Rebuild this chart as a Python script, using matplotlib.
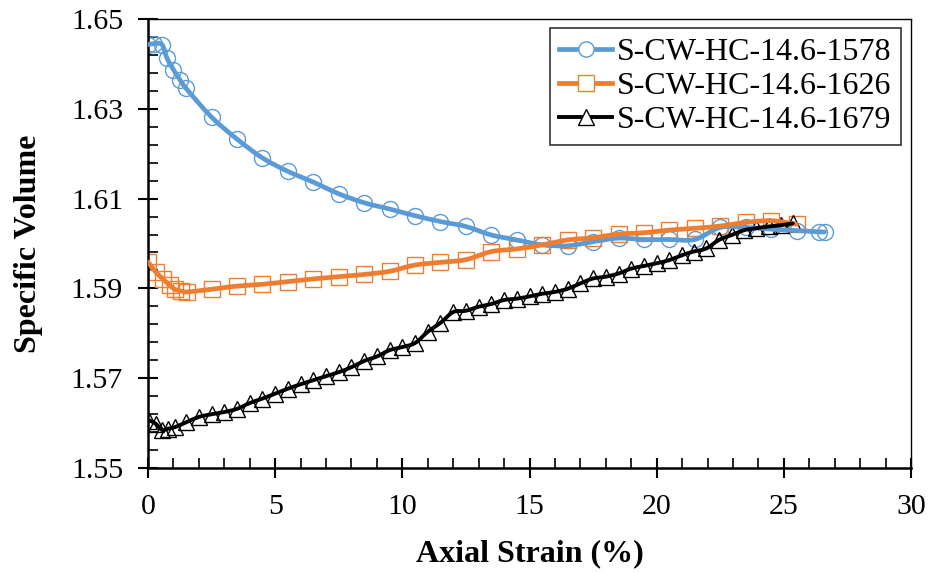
import numpy as np
import matplotlib
matplotlib.use("Agg")
import matplotlib.pyplot as plt
from matplotlib.path import Path
from matplotlib.patches import PathPatch
from matplotlib.lines import Line2D
from matplotlib.ticker import MultipleLocator, FixedLocator, FormatStrFormatter

plt.rcParams['font.family'] = ['Liberation Serif', 'DejaVu Serif']

# S-CW-HC-14.6-1578
strain_1578 = [0.0, 0.25, 0.55, 0.75, 1.0, 1.25, 1.5, 2.5, 3.5, 4.5, 5.5, 6.5, 7.5, 8.5,
               9.5, 10.5, 11.5, 12.5, 13.5, 14.5, 15.5, 16.5, 17.5, 18.5, 19.5, 20.5,
               21.5, 22.5, 23.5, 24.5, 25.5, 26.4, 26.6]
sv_1578 = [1.6444, 1.6446, 1.6444, 1.6413, 1.6388, 1.6366, 1.6346, 1.6282, 1.6233, 1.6191,
           1.6161, 1.6137, 1.6111, 1.6091, 1.6077, 1.6062, 1.6049, 1.6038, 1.6019, 1.6008,
           1.5997, 1.5995, 1.6004, 1.6012, 1.6009, 1.6009, 1.6009, 1.6036, 1.6036, 1.6032,
           1.6029, 1.6026, 1.6026]

# S-CW-HC-14.6-1626
strain_1626 = [0.0, 0.3, 0.6, 0.85, 1.05, 1.3, 1.55, 2.5, 3.5, 4.5, 5.5, 6.5, 7.5, 8.5,
               9.5, 10.5, 11.5, 12.5, 13.5, 14.5, 15.5, 16.5, 17.5, 18.5, 19.5, 20.5,
               21.5, 22.5, 23.5, 24.5, 25.5]
sv_1626 = [1.5959, 1.5937, 1.5920, 1.5907, 1.5898, 1.5894, 1.5892, 1.5898, 1.5905, 1.5909,
           1.5915, 1.5921, 1.5926, 1.5931, 1.5938, 1.5952, 1.5958, 1.5964, 1.5982, 1.5988,
           1.5997, 1.6008, 1.6013, 1.6021, 1.6024, 1.6030, 1.6034, 1.6039, 1.6047, 1.6051,
           1.6043]

# S-CW-HC-14.6-1679
strain_1679 = [0.05, 0.3, 0.55, 0.8, 1.05, 1.5, 2.0, 2.5, 3.0, 3.5, 4.0, 4.5, 5.0, 5.5, 6.0,
               6.5, 7.0, 7.5, 8.0, 8.5, 9.0, 9.5, 10.0, 10.5, 11.0, 11.5, 12.0, 12.5, 13.0,
               13.5, 14.0, 14.5, 15.0, 15.5, 16.0, 16.5, 17.0, 17.5, 18.0, 18.5, 19.0, 19.5,
               20.0, 20.5, 21.0, 21.45, 21.95, 22.45, 22.95, 23.45, 23.9, 24.4, 24.9, 25.35]
sv_1679 = [1.5605, 1.5598, 1.5584, 1.5587, 1.5590, 1.5601, 1.5613, 1.5619, 1.5624, 1.5631,
           1.5644, 1.5654, 1.5665, 1.5676, 1.5686, 1.5695, 1.5704, 1.5713, 1.5724, 1.5738,
           1.5748, 1.5762, 1.5769, 1.5778, 1.5803, 1.5823, 1.5847, 1.5850, 1.5859, 1.5865,
           1.5874, 1.5877, 1.5882, 1.5888, 1.5892, 1.5899, 1.5911, 1.5922, 1.5926, 1.5933,
           1.5944, 1.5950, 1.5956, 1.5963, 1.5974, 1.5982, 1.5989, 1.6008, 1.6019, 1.6030,
           1.6034, 1.6038, 1.6041, 1.6045]

labels = ['S-CW-HC-14.6-1578', 'S-CW-HC-14.6-1626', 'S-CW-HC-14.6-1679']
colors = ['#5B9BD5', '#ED7D31', '#000000']
markers = ['o', 's', '^']
y_major = [1.55, 1.57, 1.59, 1.61, 1.63, 1.65]


def smooth_path(x, y):
    # Excel-style smoothed line: cubic bezier through each point
    p = np.column_stack([x, y])
    n = len(p)
    verts = [p[0]]
    codes = [Path.MOVETO]
    for i in range(n - 1):
        p0 = p[i - 1] if i > 0 else p[i]
        p3 = p[i + 2] if i + 2 < n else p[i + 1]
        c1 = p[i] + (p[i + 1] - p0) / 6.0
        c2 = p[i + 1] - (p3 - p[i]) / 6.0
        verts += [c1, c2, p[i + 1]]
        codes += [Path.CURVE4] * 3
    return Path(verts, codes)


fig = plt.figure(figsize=(9.31, 5.73), dpi=100)
ax = fig.add_axes([0.159, 0.184, 0.8195, 0.782])

series = [(strain_1578, sv_1578), (strain_1626, sv_1626), (strain_1679, sv_1679)]
widths = [3.4, 3.4, 2.8]
handles = []
for (x, y), c, m, lw, lab in zip(series, colors, markers, widths, labels):
    ax.plot(x, y, linestyle='none', marker=m, markersize=11.5, markerfacecolor='none',
            markeredgecolor=c, markeredgewidth=1.0, zorder=2)
    ax.add_patch(PathPatch(smooth_path(x, y), facecolor='none', edgecolor=c,
                           linewidth=lw, capstyle='round', zorder=3))
    handles.append(Line2D([], [], color=c, linewidth=lw, marker=m, markersize=11,
                          markerfacecolor='white', markeredgecolor=c, markeredgewidth=1.0))

ax.set_xlim(0, 30)
ax.set_ylim(1.55, 1.65)
ax.xaxis.set_major_locator(MultipleLocator(5))
ax.xaxis.set_minor_locator(MultipleLocator(1))
ax.yaxis.set_major_locator(FixedLocator(y_major))
ax.yaxis.set_minor_locator(FixedLocator(np.linspace(1.55, 1.65, 26)))
ax.yaxis.set_major_formatter(FormatStrFormatter('%.2f'))

ax.tick_params(which='major', direction='inout', length=14, width=1.5, labelsize=21.5)
ax.tick_params(which='minor', direction='in', length=7, width=1.2)
ax.tick_params(axis='x', pad=12)
ax.tick_params(axis='y', pad=11)
for s in ['left', 'bottom']:
    ax.spines[s].set_linewidth(1.8)
for s in ['top', 'right']:
    ax.spines[s].set_linewidth(1.0)

ax.set_xlabel('Axial Strain (%)', fontsize=23, fontweight='bold', labelpad=14)
ax.set_ylabel('Specific Volume', fontsize=23, fontweight='bold', labelpad=20)

leg = ax.legend(handles, labels, loc='upper right', bbox_to_anchor=(0.987, 0.981),
                borderaxespad=0, fontsize=23, frameon=True, fancybox=False,
                edgecolor='black', handlelength=1.65, handletextpad=0.15,
                labelspacing=0.15, borderpad=0.3)
leg.get_frame().set_linewidth(1.2)

fig.savefig('out.png', dpi=100)
